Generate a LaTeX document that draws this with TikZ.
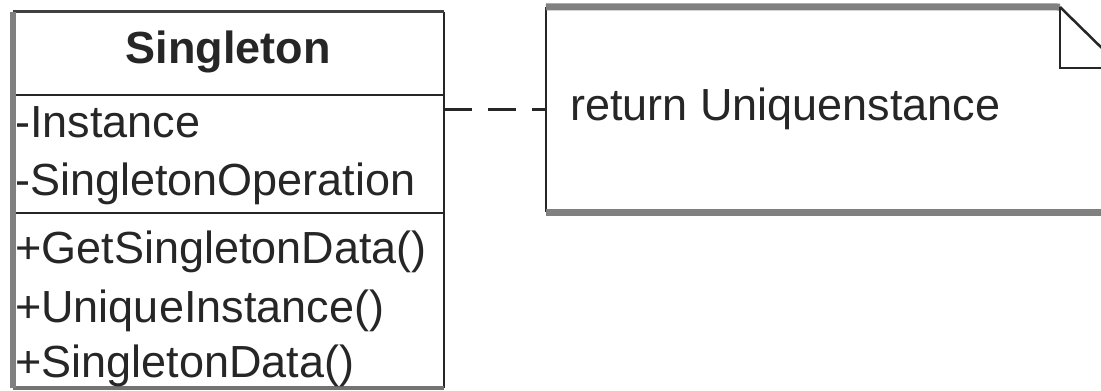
\documentclass[tikz,border=0pt]{standalone}
\usepackage{fontspec}
\setmainfont{Liberation Sans}
\begin{document}
\begin{tikzpicture}[x=1pt,y=-1pt,
  txt/.style={font=\fontsize{45}{54}\selectfont, inner sep=0pt, anchor=base west, text=black!85},
  ttl/.style={font=\fontsize{45}{54}\selectfont\bfseries, inner sep=0pt, anchor=base, text=black!85},
  edge/.style={line width=2.5pt, draw=black!85},
  shadeline/.style={line width=7pt, draw=black!50},
  conn/.style={line width=2.5pt, draw=black!85, dash pattern=on 28pt off 16pt},
  box/.style={inner sep=0pt, draw=none}
]
\clip (0,0) rectangle (1101,391);
\fill[white] (0,0) rectangle (1101,391);

% class box
\node[box, minimum width=431pt, minimum height=376pt] (cls) at (228.5,200) {};
\draw[edge] (cls.north east) -- (cls.south east);
\draw[draw=black!75, line width=3pt] (cls.north west) -- (cls.north east);
\draw[draw=black!55, line width=4pt] (cls.south west) -- (cls.south east);
\draw[edge] (cls.west |- 0,95) -- (cls.east |- 0,95);
\draw[edge] (cls.west |- 0,213) -- (cls.east |- 0,213);
\draw[draw=black!50, line width=6pt] (cls.north west) -- (cls.south west);

\node[ttl] (title) at (228,63) {Singleton};
\node[txt] (a1) at (15,137) {-Instance};
\node[txt] (a2) at (15,195) {-SingletonOperation};
\node[txt] (m1) at (15,263) {+GetSingletonData()};
\node[txt] (m2) at (15,322) {+UniqueInstance()};
\node[txt] (m3) at (15,377) {+SingletonData()};

% note
\node[box, minimum width=576pt, minimum height=205pt] (note) at (834,109.5) {};
\coordinate (fold) at (1060,7);
\coordinate (foldin) at (1060,68);
\draw[edge, line width=2pt] (note.north west) -- (note.south west);
\draw[shadeline] (note.north west) -- (fold);
\draw[shadeline] (note.south west) -- (note.south east);
\draw[edge] (fold) -- (foldin) -- (foldin -| note.east);
\draw[edge] (fold) -- (foldin -| note.east);
\node[txt] (ntext) at (570,120) {return Uniquenstance};

% connector
\draw[conn] (note.west -| cls.east) -- (note.west);
\end{tikzpicture}
\end{document}
